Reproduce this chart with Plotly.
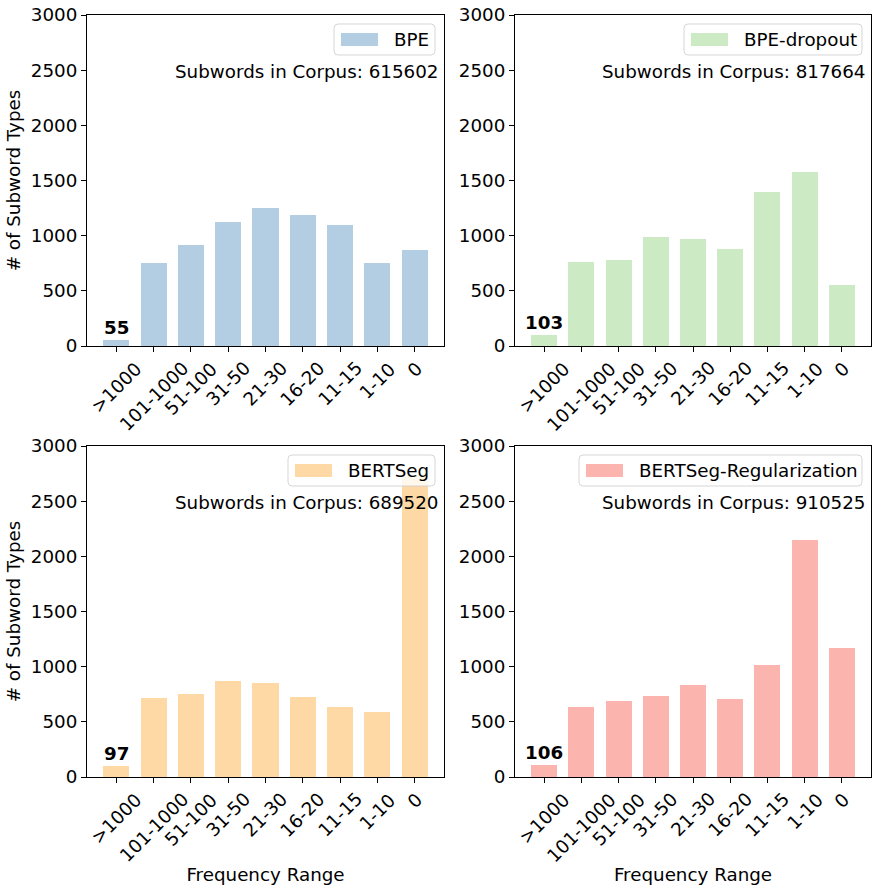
import plotly.graph_objects as go

# Frequency bins (x categories) shared by all four panels
ranges = [">1000", "101-1000", "51-100", "31-50", "21-30", "16-20", "11-15", "1-10", "0"]

# Number of subword types per frequency bin
bpe = [55, 749, 915, 1124, 1251, 1184, 1094, 749, 870]
bpe_dropout = [103, 761, 779, 988, 970, 879, 1396, 1577, 553]
bertseg = [97, 716, 752, 870, 852, 725, 634, 589, 2738]
bertseg_reg = [106, 634, 689, 734, 834, 707, 1015, 2148, 1169]

# Total subword tokens in each segmented corpus
corpus_totals = [615602, 817664, 689520, 910525]

methods = ["BPE", "BPE-dropout", "BERTSeg", "BERTSeg-Regularization"]
series = [bpe, bpe_dropout, bertseg, bertseg_reg]
colors = ["#b3cde3", "#ccebc5", "#fed9a6", "#fbb4ae"]

W, H = 872, 885
FONT = "DejaVu Sans"
FS = 18.3

# panel placement in pixels: (left, right, top, bottom)
panels_px = [
    (87, 444, 15, 346),
    (515, 871, 15, 346),
    (87, 444, 446, 777),
    (515, 871, 446, 777),
]
# width of the legend label text, used to size each legend frame
legend_text_px = {"BPE": 34, "BPE-dropout": 111, "BERTSeg": 80, "BERTSeg-Regularization": 216}

BAR_W = 0.7
x_pos = list(range(len(ranges)))
x_pad = BAR_W / 2 + 0.05 * (len(ranges) - 1 + BAR_W)
x_range = [-x_pad, len(ranges) - 1 + x_pad]


def px_x(p):
    return p / W


def px_y(p):
    return 1 - p / H


fig = go.Figure()
shapes = []
annotations = []
layout_axes = {}

for i, (name, vals, col, total, (l, r, t, b)) in enumerate(
    zip(methods, series, colors, corpus_totals, panels_px)
):
    n = "" if i == 0 else str(i + 1)
    xa, ya = "x" + n, "y" + n

    fig.add_trace(
        go.Bar(
            x=x_pos,
            y=vals,
            width=BAR_W,
            marker=dict(color=col, line=dict(width=0)),
            name=name,
            showlegend=False,
            xaxis=xa,
            yaxis=ya,
        )
    )

    axis_common = dict(
        showline=True,
        mirror=True,
        linecolor="black",
        linewidth=1,
        ticks="outside",
        ticklen=5,
        tickwidth=1,
        tickcolor="black",
        showgrid=False,
        zeroline=False,
        automargin=False,
        tickfont=dict(family=FONT, size=FS, color="black"),
    )
    xaxis = dict(
        axis_common,
        domain=[px_x(l), px_x(r)],
        anchor=ya,
        range=x_range,
        tickvals=x_pos,
        showticklabels=False,
    )
    yaxis = dict(
        axis_common,
        domain=[px_y(b), px_y(t)],
        anchor=xa,
        range=[0, 3000],
        tickvals=[0, 500, 1000, 1500, 2000, 2500, 3000],
    )
    if i % 2 == 0:
        yaxis["title"] = dict(
            text="# of Subword Types",
            font=dict(family=FONT, size=FS, color="black"),
            standoff=5,
        )
    if i >= 2:
        xaxis["title"] = dict(
            text="Frequency Range",
            font=dict(family=FONT, size=FS, color="black"),
            standoff=87,
        )
    layout_axes["xaxis" + n] = xaxis
    layout_axes["yaxis" + n] = yaxis

    # rotated category labels, centred under each tick
    for xi, lab in zip(x_pos, ranges):
        annotations.append(
            dict(
                x=xi,
                xref=xa,
                y=0,
                yref=ya + " domain",
                text=lab,
                textangle=-45,
                showarrow=False,
                xanchor="center",
                yanchor="top",
                yshift=-9,
                font=dict(family=FONT, size=FS, color="black"),
            )
        )

    # bold count above the first bin
    annotations.append(
        dict(
            x=x_pos[0],
            xref=xa,
            y=vals[0],
            yref=ya,
            text=str(vals[0]),
            showarrow=False,
            xanchor="center",
            yanchor="bottom",
            yshift=0,
            font=dict(family=FONT, size=FS, color="black", weight="bold"),
        )
    )

    # corpus size note
    annotations.append(
        dict(
            x=1,
            xref=xa + " domain",
            y=0.828,
            yref=ya + " domain",
            text=f"Subwords in Corpus: {total}",
            showarrow=False,
            xanchor="right",
            yanchor="middle",
            xshift=-4,
            font=dict(family=FONT, size=FS, color="black"),
        )
    )

    # legend frame with a colour patch and label
    box_r = r - 9
    box_t = t + 9
    box_h = 31
    box_w = 7 + 37 + 15 + legend_text_px[name] + 8
    box_l = box_r - box_w
    box_b = box_t + box_h
    rad = 4
    x0, x1 = px_x(box_l), px_x(box_r)
    y0, y1 = px_y(box_b), px_y(box_t)
    rx, ry = rad / W, rad / H
    path = (
        f"M{x0 + rx},{y1} L{x1 - rx},{y1} Q{x1},{y1} {x1},{y1 - ry} "
        f"L{x1},{y0 + ry} Q{x1},{y0} {x1 - rx},{y0} "
        f"L{x0 + rx},{y0} Q{x0},{y0} {x0},{y0 + ry} "
        f"L{x0},{y1 - ry} Q{x0},{y1} {x0 + rx},{y1} Z"
    )
    shapes.append(
        dict(
            type="path",
            path=path,
            xref="paper",
            yref="paper",
            fillcolor="rgba(255,255,255,0.8)",
            line=dict(color="rgba(204,204,204,0.8)", width=1),
            layer="above",
        )
    )
    pc = box_t + box_h / 2
    shapes.append(
        dict(
            type="rect",
            xref="paper",
            yref="paper",
            x0=px_x(box_l + 7),
            x1=px_x(box_l + 44),
            y0=px_y(pc + 6.5),
            y1=px_y(pc - 6.5),
            fillcolor=col,
            line=dict(width=0),
            layer="above",
        )
    )
    annotations.append(
        dict(
            x=px_x(box_l + 59),
            xref="paper",
            y=px_y(pc),
            yref="paper",
            text=name,
            showarrow=False,
            xanchor="left",
            yanchor="middle",
            xshift=-1,
            font=dict(family=FONT, size=FS, color="black"),
        )
    )

fig.update_layout(
    template="none",
    width=W,
    height=H,
    margin=dict(l=0, r=0, t=0, b=0, pad=0),
    paper_bgcolor="white",
    plot_bgcolor="white",
    font=dict(family=FONT, size=FS, color="black"),
    shapes=shapes,
    annotations=annotations,
    bargap=0,
    showlegend=False,
    **layout_axes,
)

fig.write_html("out.html")
